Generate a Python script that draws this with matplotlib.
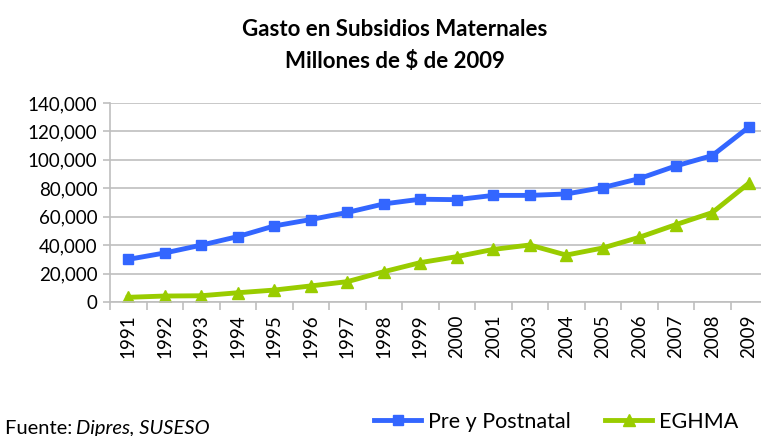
import matplotlib.pyplot as plt
from matplotlib.ticker import FuncFormatter, FixedLocator

years = ['1991', '1992', '1993', '1994', '1995', '1996', '1997', '1998', '1999',
         '2000', '2001', '2003', '2004', '2005', '2006', '2007', '2008', '2009']
pre_post = [30000, 34500, 40000, 46000, 53500, 58000, 63000, 69000, 72300,
            72000, 75000, 75000, 76000, 80500, 86800, 95700, 103000, 123000]
eghma = [3300, 4200, 4400, 6500, 8400, 11300, 14300, 21300, 27700,
         31900, 37000, 40100, 33000, 38000, 45500, 54400, 62900, 83500]

plt.rcParams['font.family'] = ['Lato', 'DejaVu Sans']

blue = '#3366FF'
green = '#99CC00'

fig = plt.figure(figsize=(7.61, 4.36), dpi=100)
ax = fig.add_axes([110 / 761, 134 / 436, 657 / 761, 199 / 436])

x = list(range(len(years)))
ax.plot(x, pre_post, color=blue, marker='s', markersize=7.5, linewidth=3.5,
        label='Pre y Postnatal')
ax.plot(x, eghma, color=green, marker='^', markersize=8.5, linewidth=3.5,
        label='EGHMA')

ax.set_xlim(-0.5, len(years) - 0.5)
ax.set_ylim(0, 140000)
ax.set_yticks(range(0, 140001, 20000))
ax.yaxis.set_major_formatter(FuncFormatter(lambda v, p: f'{int(v):,}'))
ax.grid(axis='y', color='#BFBFBF', linewidth=1.2)
ax.set_axisbelow(True)

ax.set_xticks(x)
ax.set_xticklabels(years, rotation=90, fontsize=13.5)
ax.tick_params(axis='x', which='major', length=0, pad=9)
ax.xaxis.set_minor_locator(FixedLocator([i - 0.5 for i in range(len(years) + 1)]))
ax.tick_params(axis='x', which='minor', length=6, color='#BFBFBF', width=1.2)
ax.tick_params(axis='y', length=5, color='#BFBFBF', width=1.2, labelsize=13.5, pad=4)

for s in ['top', 'right']:
    ax.spines[s].set_visible(False)
for s in ['left', 'bottom']:
    ax.spines[s].set_color('#BFBFBF')
    ax.spines[s].set_linewidth(1.2)

fig.text(395 / 761, 1 - 30 / 436, 'Gasto en Subsidios Maternales', ha='center', va='center',
         fontsize=16, fontweight='bold')
fig.text(395 / 761, 1 - 62 / 436, 'Millones de $ de 2009', ha='center', va='center',
         fontsize=16, fontweight='bold')

fig.legend(loc='center', bbox_to_anchor=(556 / 761, 1 - 422 / 436), ncol=2, frameon=False,
           fontsize=15.5, handlelength=2.2, columnspacing=1.6, handletextpad=0.3)

fig.text(5 / 761, 1 - 428 / 436, 'Fuente: ', ha='left', va='center', fontsize=14.5)
fig.text(76 / 761, 1 - 428 / 436, 'Dipres, SUSESO', ha='left', va='center', fontsize=14.5,
         style='italic')

fig.savefig('out.png', dpi=100)
